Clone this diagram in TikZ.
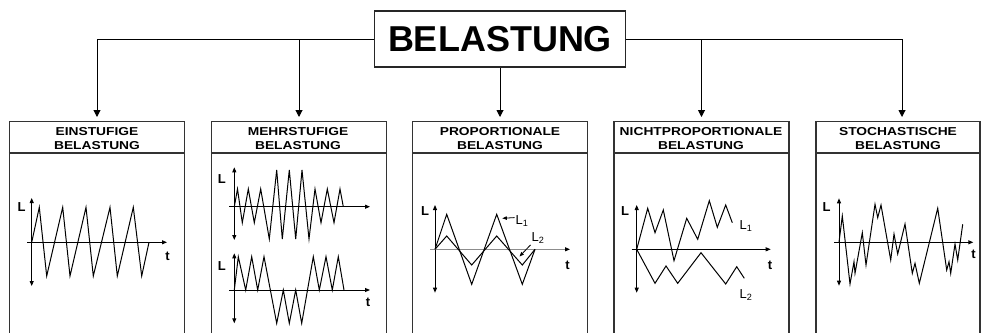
\documentclass[tikz,border=0pt]{standalone}
\usepackage{fontspec}
\setmainfont{Liberation Sans}
\usetikzlibrary{arrows.meta}
% widened header lettering
\newcommand\hs[1]{\scalebox{1.2}[1]{#1}}

\begin{document}
\begin{tikzpicture}[x=1pt,y=-1pt,
  title/.style={draw=black!85, line width=1.2pt, minimum width=251pt, minimum height=56pt,
    inner sep=0pt, font=\fontsize{36}{40}\selectfont\bfseries},
  panel/.style={draw=black!80, line width=1.1pt, minimum width=175pt, minimum height=230pt,
    anchor=north, inner sep=0pt},
  sepline/.style={draw=black!80, line width=1.1pt},
  head/.style={font=\fontsize{11.5}{13.3}\selectfont\bfseries, align=center, inner sep=0pt},
  conn/.style={line width=1pt, -{Triangle[width=7pt,length=7pt]}, shorten >=4pt},
  vax/.style={line width=0.9pt, {Triangle[width=4pt,length=5pt]}-{Triangle[width=4pt,length=5pt]}},
  hax/.style={line width=0.9pt, -{Triangle[width=4pt,length=5pt]}},
  sig/.style={line width=1pt},
  axlab/.style={font=\fontsize{13}{15}\selectfont\bfseries, inner sep=0pt},
  curvelab/.style={font=\fontsize{13}{15}\selectfont, inner sep=0pt, anchor=base west},
  leader/.style={line width=0.8pt, -{Triangle[width=3.5pt,length=4.5pt]}}
]
\useasboundingbox (0,0) rectangle (981,332);
\clip (0,0) rectangle (981,332);

% root node
\node[title] (top) at (500,39) {BELASTUNG};

% category panels
\node[panel] (b1) at (97,121) {};
\node[panel] (b2) at (299,121) {};
\node[panel] (b3) at (500,121) {};
\node[panel] (b4) at (701.5,121) {};
\node[panel, minimum width=164pt] (b5) at (898,121) {};

\foreach \b in {b1,b2,b3,b4,b5}
  \draw[sepline] ([yshift=-32pt]\b.north west) -- ([yshift=-32pt]\b.north east);

\node[head] (h1) at (97,138.4) {\hs{EINSTUFIGE}\\\hs{BELASTUNG}};
\node[head] (h2) at (298,138.4) {\hs{MEHRSTUFIGE}\\\hs{BELASTUNG}};
\node[head] (h3) at (500,138.4) {\hs{PROPORTIONALE}\\\hs{BELASTUNG}};
\node[head] (h4) at (701,138.4) {\hs{NICHTPROPORTIONALE}\\\hs{BELASTUNG}};
\node[head] (h5) at (898,138.4) {\hs{STOCHASTISCHE}\\\hs{BELASTUNG}};

% connectors
\draw[conn] (top.west) -| (b1.north);
\draw[conn] (top.west -| b2.north) -- (b2.north);
\draw[conn] (top.south) -- (b3.north);
\draw[conn] (top.east -| b4.north) -- (b4.north);
\draw[conn] (top.east) -| ([xshift=4pt]b5.north);

% constant amplitude
\draw[vax] (31.7,198) -- (31.7,286);
\draw[hax] (27,242.3) -- (167,242.3);
\node[axlab] (l1) at (21.5,207) {L};
\node[axlab] (t1) at (167.5,256) {t};
\draw[sig] (31.7,242.3) -- (39.3,207.3) -- (46.7,276) -- (62.7,207.3) -- (70,276) -- (86,207.3)
  -- (93.3,276) -- (110,207.3) -- (117.3,276) -- (133.3,207.3) -- (141.7,276) -- (149,242.3);

% block loading, upper
\draw[vax] (234.3,167.3) -- (234.3,240);
\draw[hax] (229.3,206.7) -- (370,206.7);
\node[axlab] (l2a) at (221.8,179) {L};
\draw[sig] (234.3,206.7) -- (237.5,189) -- (242.3,222.7) -- (248.3,189) -- (254.3,222.7) -- (260.7,189)
  -- (269.3,239) -- (276.7,170) -- (282.3,239) -- (289.3,170) -- (295.7,239) -- (302,170)
  -- (309,239) -- (315,189) -- (321,222.7) -- (327.3,189) -- (334,222.7) -- (340,189) -- (343.3,206.7);

% block loading, lower
\draw[vax] (234.3,253.3) -- (234.3,323.3);
\draw[hax] (229.3,290) -- (370,290);
\node[axlab] (l2b) at (221.8,266) {L};
\node[axlab] (t2) at (368,302.5) {t};
\draw[sig] (234.3,290) -- (238.3,256.7) -- (245.7,290) -- (251.7,256.7) -- (257.7,290) -- (264,256.7)
  -- (276.7,323.3) -- (283.3,290) -- (289.3,323.3) -- (295.7,290) -- (301.7,323.3)
  -- (313.3,256.7) -- (319.3,290) -- (326,256.7) -- (332.3,290) -- (338.3,256.7) -- (344,290);

% proportional loading
\draw[vax] (435,205) -- (435,292.7);
\draw[hax, draw=black!45, -{Triangle[width=4pt,length=5pt,color=black]}] (430,249.3) -- (570,249.3);
\node[axlab] (l3) at (425,211.5) {L};
\node[axlab] (t3) at (567.5,265.5) {t};
\draw[sig] (435,249.3) -- (446.7,214.3) -- (471.7,284.3) -- (496.7,214.3) -- (522.3,284.3) -- (535,249.3);
\draw[sig] (435,249.3) -- (446.7,236) -- (471.7,265) -- (496.7,236) -- (522.3,265) -- (535,249.3);
\node[curvelab] (c31) at (515.5,224.5) {L\textsubscript{1}};
\node[curvelab] (c32) at (531.5,241) {L\textsubscript{2}};
\draw[leader] (c31.west) ++(-1,-3.5) -- (502.3,218.3);
\draw[leader] (c32.south west) ++(-1,1.5) -- (519.5,256.5);

% non-proportional loading
\draw[vax] (636.7,205) -- (636.7,292.7);
\draw[hax] (631.7,249.3) -- (770.7,249.3);
\node[axlab] (l4) at (625,211.5) {L};
\node[axlab] (t4) at (770,265.5) {t};
\draw[sig] (636.7,249.3) -- (647.7,208.3) -- (655,232.7) -- (663.3,210) -- (674,260.7) -- (686.7,218.3)
  -- (697.7,239.3) -- (709.3,200.7) -- (717.3,227.3) -- (725.7,205) -- (732.3,222.7);
\draw[sig] (636.7,249.3) -- (655,283.3) -- (666,266) -- (677.7,283.3) -- (701,252.7) -- (725.7,284)
  -- (736.7,266.7) -- (744.3,278.3);
\node[curvelab] (c41) at (739.5,229.8) {L\textsubscript{1}};
\node[curvelab] (c42) at (739.5,298.2) {L\textsubscript{2}};

% random loading
\draw[vax] (839,198.3) -- (839,285.7);
\draw[hax] (834.3,242.3) -- (973.3,242.3);
\node[axlab] (l5) at (826.5,207.5) {L};
\node[axlab] (t5) at (973.5,254) {t};
\draw[sig] (839,242.3) -- (842.3,216) -- (850,284) -- (854,261.7) -- (855,273.3) -- (862.3,232.7)
  -- (866,265) -- (875,204.3) -- (877.7,217.7) -- (881,205) -- (890.7,260) -- (894,234)
  -- (897.7,254) -- (905,224) -- (912.3,273.3) -- (915,263.3) -- (919.3,283.3) -- (937.7,208.3)
  -- (946.7,270) -- (949,261.7) -- (950.7,273.3) -- (955,244) -- (957.7,260) -- (962.7,224.3);
\end{tikzpicture}
\end{document}
